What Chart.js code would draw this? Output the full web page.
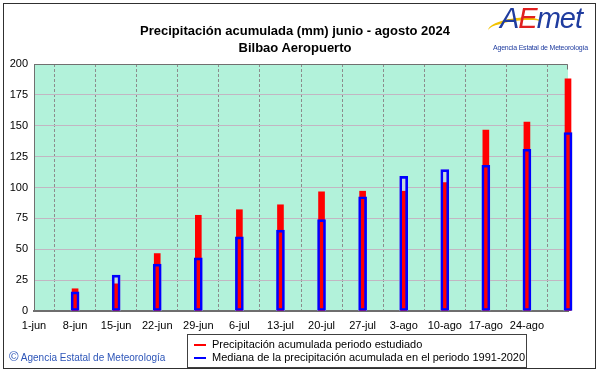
<!DOCTYPE html>
<html lang="es">
<head>
    <meta charset="UTF-8">
    <title>Precipitación acumulada Bilbao Aeropuerto</title>
    <script src="https://cdn.jsdelivr.net/npm/chart.js"></script>
    <style>
        body {
            margin: 0;
            background: #ffffff;
            font-family: "Liberation Sans", Arial, sans-serif;
        }
        .wrap {
            position: relative;
            width: 601px;
            height: 374px;
            overflow: hidden;
        }
        .frame {
            position: absolute;
            left: 3px;
            top: 3px;
            width: 593px;
            height: 366px;
            border: 1px solid #303030;
            box-sizing: border-box;
            pointer-events: none;
        }
        canvas { position: absolute; left: 0; top: 0; }
        .title {
            position: absolute;
            left: 95px;
            width: 400px;
            text-align: center;
            font-weight: bold;
            font-size: 13px;
            color: #000;
            line-height: 17px;
            top: 22px;
        }
        .logo {
            position: absolute;
            left: 500px;
            top: 4px;
            font-style: italic;
            font-size: 29px;
            line-height: 29px;
            color: #1f3c9f;
            letter-spacing: -1px;
            font-family: "Liberation Sans", Arial, sans-serif;
        }
        .logo .e { color: #e02020; }
        .swoosh {
            position: absolute;
            left: 488px;
            top: 18px;
            width: 54px;
            height: 14px;
            border-top: 3px solid #f2c200;
            border-radius: 50%;
            transform: rotate(-8deg);
        }
        .logo-sub {
            position: absolute;
            left: 493px;
            top: 44px;
            font-size: 7px;
            color: #1f3c9f;
            letter-spacing: -0.2px;
        }
        .legend {
            position: absolute;
            left: 187px;
            top: 334px;
            width: 340px;
            height: 34px;
            border: 1px solid #404040;
            box-sizing: border-box;
            font-size: 11px;
            color: #000;
        }
        .legend div {
            position: absolute;
            left: 24px;
            white-space: nowrap;
        }
        .legend span {
            position: absolute;
            left: 6px;
            width: 12px;
            height: 2px;
        }
        .copy {
            position: absolute;
            left: 9px;
            top: 349px;
            font-size: 10px;
            color: #2d55b8;
        }
        .copy b {
            font-weight: normal;
            font-size: 13px;
        }
    </style>
</head>
<body>
<div class="wrap">
    <canvas id="rainChart" width="601" height="374"></canvas>
    <div class="title">Precipitación acumulada (mm) junio - agosto 2024<br>Bilbao Aeropuerto</div>
    <div class="swoosh"></div>
    <div class="logo">A<span class="e">E</span>met</div>
    <div class="logo-sub">Agencia Estatal de Meteorología</div>
    <div class="legend">
        <span style="top:9px;background:#ff0000"></span>
        <div style="top:3px">Precipitación acumulada periodo estudiado</div>
        <span style="top:22px;background:#0000ff"></span>
        <div style="top:16px">Mediana de la precipitación acumulada en el periodo 1991-2020</div>
    </div>
    <div class="copy"><b>©</b> Agencia Estatal de Meteorología</div>
    <div class="frame"></div>
</div>

<script>
    // semanas (inicio 1-jun, cada 7 dias)
    const weeks = ['1-jun', '8-jun', '15-jun', '22-jun', '29-jun', '6-jul', '13-jul',
                   '20-jul', '27-jul', '3-ago', '10-ago', '17-ago', '24-ago', '31-ago'];
    const weekLabels = ['1-jun', '8-jun', '15-jun', '22-jun', '29-jun', '6-jul', '13-jul',
                        '20-jul', '27-jul', '3-ago', '10-ago', '17-ago', '24-ago', ''];

    // precipitacion acumulada 2024 (mm)
    const precip2024 = [null, 18, 22, 46.5, 77.5, 82, 86, 96.5, 97, 97, 104, 146.5, 153, 188];
    // mediana 1991-2020 (mm)
    const median = [null, 15.5, 29, 38, 43, 60, 65.5, 74, 92.5, 109, 114.5, 118, 131, 144.5];

    const yMin = 0;
    const yMax = 200;
    const yStep = 25;

    // fondo verde del area de grafico + marco
    const plotArea = {
        id: 'plotArea',
        beforeDraw(chart) {
            const a = chart.chartArea;
            const ctx = chart.ctx;
            ctx.save();
            ctx.fillStyle = '#b2f2da';
            ctx.fillRect(a.left, a.top, a.right - a.left, a.bottom - a.top);
            ctx.restore();
        },
        afterDatasetsDraw(chart) {
            const a = chart.chartArea;
            const ctx = chart.ctx;
            ctx.save();
            ctx.strokeStyle = '#707070';
            ctx.lineWidth = 1;
            ctx.beginPath();
            ctx.moveTo(a.left + 0.5, a.bottom);
            ctx.lineTo(a.left + 0.5, a.top + 0.5);
            ctx.lineTo(a.right - 0.5, a.top + 0.5);
            ctx.lineTo(a.right - 0.5, a.top + 0.5 + 5);
            ctx.stroke();
            ctx.restore();
        }
    };

    const ctx = document.getElementById('rainChart').getContext('2d');

    const rainChart = new Chart(ctx, {
        type: 'bar',
        data: {
            labels: weeks,
            datasets: [
                {
                    // relleno de la mediana (detras)
                    label: 'mediana fondo',
                    data: median,
                    backgroundColor: '#c8d8d8',
                    borderWidth: 0,
                    barThickness: 8,
                    grouped: false,
                    order: 3,
                    clip: 6
                },
                {
                    label: 'Precipitación acumulada periodo estudiado',
                    data: precip2024,
                    backgroundColor: '#ff0000',
                    borderWidth: 0,
                    barThickness: 6,
                    grouped: false,
                    order: 2,
                    clip: 6
                },
                {
                    label: 'Mediana de la precipitación acumulada en el periodo 1991-2020',
                    data: median,
                    backgroundColor: 'rgba(0,0,0,0)',
                    borderColor: '#0000ff',
                    borderWidth: 2,
                    borderSkipped: false,
                    barThickness: 8,
                    grouped: false,
                    order: 1,
                    clip: 6
                }
            ]
        },
        options: {
            responsive: false,
            animation: false,
            layout: {
                padding: { top: 64, right: 33, left: 0, bottom: 0 }
            },
            plugins: {
                legend: { display: false },
                title: { display: false },
                tooltip: { enabled: false }
            },
            scales: {
                x: {
                    offset: false,
                    afterFit: function(scale) { scale.height = 63; },
                    grid: {
                        color: '#8c8c8c',
                        drawTicks: false,
                        lineWidth: 1
                    },
                    border: {
                        color: '#6e6e6e',
                        width: 2,
                        dash: [3, 2]
                    },
                    ticks: {
                        autoSkip: false,
                        maxRotation: 0,
                        padding: 8,
                        color: '#000',
                        font: { family: '"Liberation Sans", Arial', size: 11 },
                        callback: function(value, index) {
                            return weekLabels[index];
                        }
                    }
                },
                y: {
                    min: yMin,
                    max: yMax,
                    afterFit: function(scale) { scale.width = 34; },
                    grid: {
                        color: '#c2b6c2',
                        drawTicks: false,
                        lineWidth: 1
                    },
                    border: {
                        color: '#6e6e6e',
                        width: 1
                    },
                    ticks: {
                        stepSize: yStep,
                        padding: 6,
                        color: '#000',
                        font: { family: '"Liberation Sans", Arial', size: 11 }
                    }
                }
            }
        },
        plugins: [plotArea]
    });
</script>
</body>
</html>
